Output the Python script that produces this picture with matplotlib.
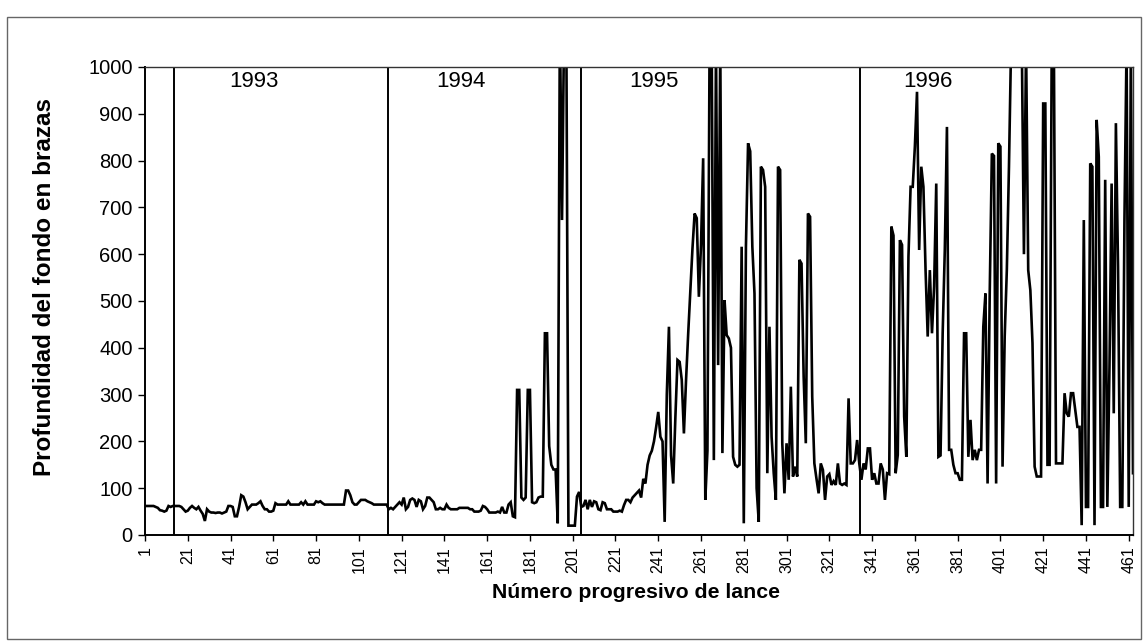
import matplotlib
matplotlib.use("Agg")
import matplotlib.pyplot as plt
from matplotlib.patches import Rectangle
import numpy as np

# ---------------- data (depth in brazas per haul) ----------------
d1993 = [62, 62, 62, 62, 62, 60, 58,
         53, 52, 50, 52,
         62, 60, 62, 62,
         62, 62, 60, 55,
         50, 52, 58,
         62, 58, 55,
         60, 52, 45,
         30,
         55, 50, 48,
         48, 47, 48, 48, 46, 48, 50,
         62, 62, 60,
         40, 40, 60,
         85, 82, 70,
         55, 60, 65, 65,
         65, 68, 72, 62,
         55, 55, 50, 50, 52,
         68, 65, 65, 65, 65,
         65, 72, 65, 65,
         65, 65, 65, 70, 65,
         72, 65, 65, 65, 65,
         72, 70, 72, 68, 65,
         65, 65, 65, 65, 65, 65, 65, 65, 65,
         95, 95, 85,
         70, 65, 65, 70,
         75, 75, 75, 72, 70,
         68, 65, 65, 65, 65, 65, 65, 65]

d1994 = [55, 58, 55, 60, 65, 70, 65, 80, 55, 60,
         75, 78, 75, 60, 75, 72, 55, 62, 80, 80,
         75, 70, 55, 55, 58, 55, 55, 65, 58, 55,
         55, 55, 55, 58, 58, 58, 58, 58, 55, 55,
         50, 50, 50, 52, 62, 60, 55, 48, 48, 48,
         48, 50, 48, 60, 48, 48, 65, 70, 40, 38,
         310, 310, 80, 75, 80, 310, 310, 70, 68, 70,
         80, 82, 82, 431, 431, 190, 150, 140, 140, 25,
         1100, 673, 1100, 1100, 20, 20, 20, 20, 82, 92]

d1995 = [60, 62, 75, 55, 75, 60, 72, 70, 55, 53,
         70, 68, 55, 55, 55, 50, 50, 50, 52, 50,
         64, 75, 75, 70, 80, 85, 90, 95, 80, 120,
         110, 150, 170, 180, 200, 230, 263, 210, 200, 28,
         300, 445, 170, 110, 250, 374, 370, 331, 217, 331,
         430, 520, 612, 687, 677, 509, 620, 805, 75, 180,
         1050, 1050, 160, 1050, 363, 1050, 175, 502, 427, 420,
         400, 167, 150, 146, 150, 616, 25, 616, 837, 820,
         616, 516, 100, 28, 787, 780, 744, 132, 445, 210,
         132, 75, 787, 780, 196, 89, 196, 118, 317, 125,
         146, 125, 588, 580, 338, 196, 687, 680, 296, 153,
         120, 89, 153, 139, 75, 125, 130, 107, 115, 107,
         153, 110, 107, 110, 107, 292, 153, 153, 160, 203,
         153]

d1996 = [118, 153, 140, 185, 185, 118, 132, 110, 110, 153,
         140, 75, 132, 130, 659, 640, 132, 171, 630, 620,
         253, 167, 595, 744, 744, 830, 947, 609, 787, 744,
         566, 424, 566, 431, 531, 751, 167, 170, 431, 610,
         872, 182, 182, 150, 132, 132, 118, 118, 431, 431,
         167, 246, 160, 182, 160, 182, 182, 445, 516, 110,
         516, 815, 810, 110, 837, 830, 146, 424, 566, 787,
         1050, 1050, 1050, 1050, 1050, 1050, 600, 1050, 566, 523,
         410, 146, 125, 125, 125, 922, 922, 150, 150, 1050,
         1050, 153, 153, 153, 153, 303, 260, 253, 303, 303,
         267, 231, 231, 21, 673, 60, 60, 794, 787, 21,
         887, 808, 60, 60, 759, 60, 360, 751, 260, 880,
         573, 60, 60, 673, 1050, 60, 1050, 132]

year_labels = ["1993", "1994", "1995", "1996"]
year_bounds = [14.5, 114.5, 205, 335.5]
year_label_pos = [51.8, 148.9, 239, 367]

depth = d1993 + d1994 + d1995 + d1996
haul = np.arange(1, len(depth) + 1)

y_ticks = list(range(0, 1001, 100))
x_ticks = list(range(1, 462, 20))

# ---------------- figure ----------------
plt.rcParams['font.family'] = ['Liberation Sans', 'DejaVu Sans']
W, H = 1148, 642
fig = plt.figure(figsize=(W / 100, H / 100), dpi=100)
ax = fig.add_axes([145 / W, 1 - 535 / H, (1133 - 145) / W, (535 - 67) / H])

ax.plot(haul, depth, color='black', lw=1.9, solid_joinstyle='miter')

for xb in year_bounds:
    ax.plot([xb, xb], [0, 1000], color='black', lw=1.4)
for lab, xp in zip(year_labels, year_label_pos):
    ax.text(xp, 970, lab, ha='center', va='center', fontsize=16)

ax.set_xlim(1, len(depth))
ax.set_ylim(0, 1000)
ax.set_yticks(y_ticks)
ax.set_yticklabels([str(v) for v in y_ticks], fontsize=14.5)
ax.set_xticks(x_ticks)
ax.set_xticklabels([str(v) for v in x_ticks], rotation=90, fontsize=11.5)
ax.tick_params(axis='both', direction='out', length=5, width=1, color='black')
ax.tick_params(axis='y', pad=4)
ax.tick_params(axis='x', length=4, pad=4)
for s in ax.spines.values():
    s.set_linewidth(1.0)
    s.set_color('#333333')
ax.spines['left'].set_color('black')
ax.spines['bottom'].set_color('black')
ax.spines['left'].set_linewidth(1.4)
ax.spines['bottom'].set_linewidth(1.4)

fig.text(45 / W, 1 - 287 / H, "Profundidad del fondo en brazas", rotation=90,
         ha='center', va='center', fontsize=17.5, fontweight='bold')
fig.text(636 / W, 1 - 592 / H, "Número progresivo de lance",
         ha='center', va='center', fontsize=15.3, fontweight='bold')

fig.patches.append(Rectangle((7 / W, 1 - 639 / H), (1141 - 7) / W, (639 - 17) / H,
                             transform=fig.transFigure, fill=False,
                             edgecolor='#666666', lw=1.0))

fig.savefig("out.png", dpi=100)
